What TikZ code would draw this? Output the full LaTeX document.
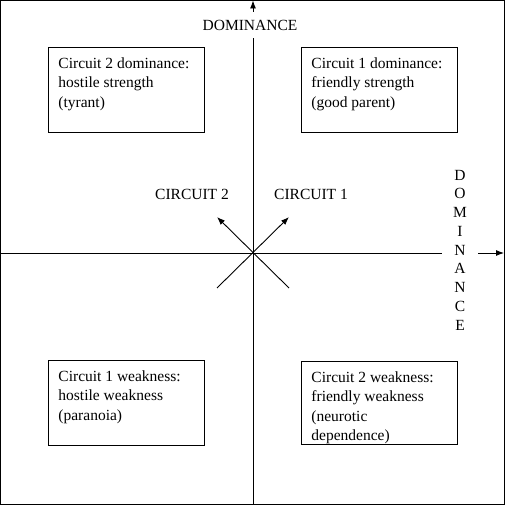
\documentclass[tikz,border=0pt]{standalone}
\usepackage{fontspec}
\setmainfont{Liberation Serif}
\usetikzlibrary{arrows.meta}

\begin{document}
\begin{tikzpicture}[x=1pt, y=-1pt, font=\fontsize{15.5}{19.5}\selectfont]

\tikzset{quadrant/.style = {draw, anchor=north west, inner sep=10pt, line width=0.9pt}}
\tikzset{edge/.style = {-{Latex[length=8pt,width=6pt]}, line width=0.9pt}}
\tikzset{axislabel/.style = {fill=white, inner sep=0pt}}
\useasboundingbox (0,0) rectangle (505,505);
%frame
\draw[line width=0.9pt] (0.5,0.5) rectangle (504,504);
%points
\coordinate (top) at (253,0.5);
\coordinate (bottom) at (253,504);
\coordinate (left) at (0.5,253);
\coordinate (right) at (504,253);
\coordinate (c1tail) at (217,288);
\coordinate (c1head) at (289,217);
\coordinate (c2tail) at (289,288);
\coordinate (c2head) at (217,217);
%axes
\draw [edge] (bottom) -- (top);
\draw [edge] (left) -- (right);
\draw [edge] (c1tail) -- (c1head);
\draw [edge] (c2tail) -- (c2head);
%labels
\node[axislabel, minimum height=26pt] (domtop) at (250,25) {DOMINANCE};
\node[axislabel, minimum width=36pt, align=center, font=\fontsize{15.5}{18.75}\selectfont] (domright) at (460,250)
  {D\\O\\M\\I\\N\\A\\N\\C\\E};
\node (circ2) at (192,194) {CIRCUIT 2};
\node (circ1) at (311,194) {CIRCUIT 1};
%quadrants
\node[quadrant] (c2dom) at (48,47)
  {\parbox[t][65pt][t]{136pt}{Circuit 2 dominance:\\hostile strength\\(tyrant)}};
\node[quadrant] (c1dom) at (301,47)
  {\parbox[t][65pt][t]{136pt}{Circuit 1 dominance:\\friendly strength\\(good parent)}};
\node[quadrant] (c1weak) at (48,360)
  {\parbox[t][65pt][t]{136pt}{Circuit 1 weakness:\\hostile weakness\\(paranoia)}};
\node[quadrant] (c2weak) at (301,361)
  {\parbox[t][63pt][t]{136pt}{Circuit 2 weakness:\\friendly weakness\\(neurotic\\dependence)}};

\end{tikzpicture}
\end{document}
